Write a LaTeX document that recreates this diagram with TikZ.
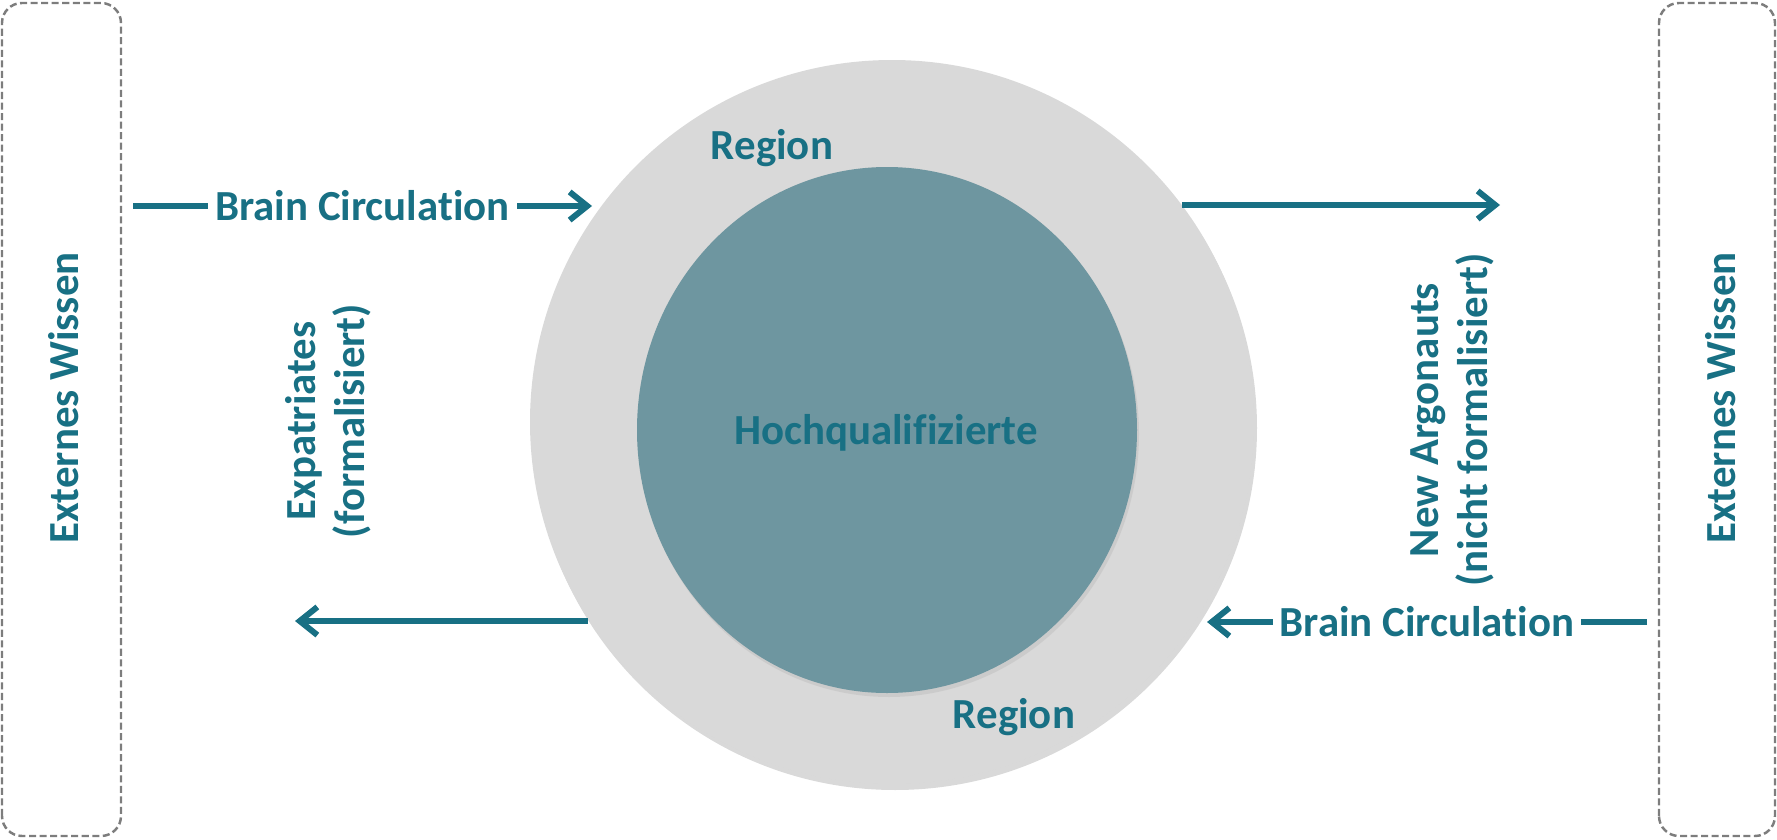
\documentclass[tikz,border=0pt]{standalone}
\usepackage{fontspec}
\setmainfont{Carlito}[Ligatures=NoCommon]
\usetikzlibrary{arrows.meta,shadows}
\definecolor{petrol}{RGB}{24,112,132}
\definecolor{ringgray}{RGB}{217,217,217}
\definecolor{corefill}{RGB}{110,150,160}
\definecolor{boxgray}{RGB}{125,125,125}

\begin{document}
\begin{tikzpicture}[
    flow/.style={petrol, line width=1.7pt, -{Straight Barb[length=5pt,width=8pt]}},
    lbl/.style={text=petrol, font=\fontsize{12.2}{14}\selectfont\bfseries, align=center},
    extbox/.style={boxgray, line width=0.7pt, dash pattern=on 2pt off 1pt, rounded corners=0.2cm}
  ]
        \useasboundingbox (0,0) rectangle (17.77,8.39);
        % outside boxes
        \draw[extbox] (0.02,0.03) rectangle (1.21,8.36);
        \draw[extbox] (16.59,0.03) rectangle (17.75,8.36);
        \node[lbl, rotate=90] (extl) at (0.64,4.41) {Externes Wissen};
        \node[lbl, rotate=90] (extr) at (17.21,4.41) {Externes Wissen};
        % region and core
        \fill[ringgray, drop shadow={opacity=0.3, shadow xshift=0.03cm, shadow yshift=-0.06cm}] (8.92,4.17) circle (3.62);
        \fill[corefill, drop shadow={opacity=0.15, shadow xshift=0.02cm, shadow yshift=-0.04cm}] (8.87,4.09) ellipse (2.50 and 2.63);
        \node[lbl] (core) at (8.86,4.06) {Hochqualifizierte};
        \node[lbl] (regtop) at (7.72,6.91) {Region};
        \node[lbl] (regbot) at (10.14,1.22) {Region};
        % flows
        \coordinate (tlstart) at (1.33,6.33);
        \coordinate (tlend) at (5.92,6.33);
        \coordinate (trstart) at (11.82,6.34);
        \coordinate (trend) at (15.00,6.34);
        \coordinate (blstart) at (5.88,2.18);
        \coordinate (blend) at (2.95,2.18);
        \coordinate (brstart) at (16.47,2.17);
        \coordinate (brend) at (12.07,2.17);
        \draw[flow] (tlstart) -- node[lbl, fill=white, inner sep=2pt] (bcin) {Brain Circulation} (tlend);
        \draw[flow] (trstart) -- (trend);
        \draw[flow] (blstart) -- (blend);
        \draw[flow] (brstart) -- node[lbl, fill=white, inner sep=2pt] (bcout) {Brain Circulation} (brend);
        \node[lbl, rotate=90] (expat) at (3.28,4.18) {Expatriates\\(formalisiert)};
        \node[lbl, rotate=90] (argo) at (14.52,4.19) {New Argonauts\\(nicht formalisiert)};
    \end{tikzpicture}
\end{document}
